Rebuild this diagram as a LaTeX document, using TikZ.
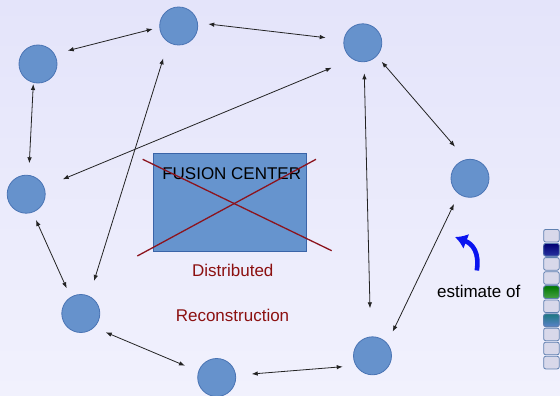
\documentclass[tikz,border=0pt]{standalone}
\usepackage{fontspec}
\setmainfont{Liberation Sans}
\usetikzlibrary{arrows.meta,calc}
\definecolor{bgtop}{RGB}{228,228,250}
\definecolor{bgbot}{RGB}{241,241,253}
\definecolor{nodeblue}{RGB}{102,146,204}
\definecolor{nodeedge}{RGB}{74,116,180}
\definecolor{fcfill}{RGB}{102,148,206}
\definecolor{fcedge}{RGB}{58,100,168}
\definecolor{crossred}{RGB}{140,20,30}
\definecolor{labelred}{RGB}{140,16,16}
\definecolor{cellfill}{RGB}{216,216,234}
\definecolor{celledge}{RGB}{96,128,176}
\definecolor{linkgray}{RGB}{35,35,35}
\definecolor{arrowblue}{RGB}{10,20,240}
\begin{document}
\begin{tikzpicture}[x=1pt,y=-1pt,
  sensor/.style={circle,minimum size=38pt,inner sep=0pt,outer sep=0pt,
    fill=nodeblue,draw=nodeedge,line width=0.8pt},
  link/.style={draw=linkgray,line width=0.8pt,
    {Latex[length=6pt,width=4.5pt]}-{Latex[length=6pt,width=4.5pt]}},
  lbl/.style={font=\fontsize{17}{20}\selectfont,anchor=base,inner sep=0pt},
  cell/.style={draw=celledge,line width=0.8pt,rounded corners=2pt,
    minimum width=15.5pt,minimum height=12.6pt,inner sep=0pt,anchor=north west}]

% background
\shade[top color=bgtop,bottom color=bgbot] (0,0) rectangle (560,396);
\useasboundingbox (0,0) rectangle (560,396);

% sensor network nodes
\node[sensor] (A) at (38,64) {};
\node[sensor] (B) at (178.7,26) {};
\node[sensor] (C) at (362.8,42.8) {};
\node[sensor] (D) at (470,178.3) {};
\node[sensor] (E) at (26.2,194.2) {};
\node[sensor] (F) at (80.8,313.5) {};
\node[sensor] (G) at (216.7,377.5) {};
\node[sensor] (H) at (372.5,355.8) {};

% two-way links between neighbours
\draw[link] ($(A)+(29.7,-13.3)$) -- ($(B)+(-26,3)$);
\draw[link] ($(B)+(29.6,-2)$) -- ($(C)+(-37.1,-5.1)$);
\draw[link] ($(A)+(-4.7,20)$) -- ($(E)+(3.1,-30.9)$);
\draw[link] ($(E)+(9.8,25.8)$) -- ($(F)+(-14.1,-25.2)$);
\draw[link] ($(B)+(-15.4,32.3)$) -- ($(F)+(13.2,-32.5)$);
\draw[link] ($(F)+(24.9,18.8)$) -- ($(G)+(-31.7,-11.8)$);
\draw[link] ($(G)+(35,-3.5)$) -- ($(H)+(-29.8,10.9)$);
\draw[link] ($(H)+(-2.5,-47.5)$) -- ($(C)+(1.5,30.5)$);
\draw[link] ($(C)+(18.9,18.9)$) -- ($(D)+(-15,-31.6)$);
\draw[link] ($(D)+(-16,25.7)$) -- ($(H)+(20.2,-24.1)$);
\draw[link] ($(C)+(-31.1,24.9)$) -- ($(E)+(36.5,-14.9)$);

% crossed-out fusion center
\node[draw=fcedge,fill=fcfill,line width=0.8pt,minimum width=152.4pt,
  minimum height=97.4pt,inner sep=0pt,anchor=north west] (fc) at (153.3,153.3) {};
\node[lbl] (fctext) at (231.7,179) {FUSION CENTER};
\draw[crossred,line width=1.3pt] (142.7,159.3) -- (331.7,250.7);
\draw[crossred,line width=1.3pt] (137.3,256) -- (316,159.3);

\node[lbl,text=labelred] (dist) at (232.8,276) {Distributed};
\node[lbl,text=labelred] (reco) at (232.5,321.5) {Reconstruction};

% estimate legend
\node[lbl] (est) at (478.7,297.3) {estimate of};
\draw[arrowblue,line width=4.6pt,-{Latex[length=12pt,width=16pt]}]
  (476.8,270.5) .. controls (479.5,253) and (473,244) .. (455,237);

% vector of entries
\foreach \i in {1,...,10}{
  \node[cell,fill=cellfill] (cell\i) at (543.3,{229+14.1*(\i-1)}) {};
}
\node[cell,top color=blue!45!black,bottom color={rgb,255:red,40;green,50;blue,160}] (navy) at (543.3,{229+14.1}) {};
\node[cell,top color={rgb,255:red,0;green,120;blue,0},bottom color={rgb,255:red,70;green,160;blue,70}] (green) at (543.3,{229+14.1*4}) {};
\node[cell,top color={rgb,255:red,30;green,120;blue,130},bottom color={rgb,255:red,90;green,130;blue,200}] (teal) at (543.3,{229+14.1*6}) {};
\end{tikzpicture}
\end{document}
